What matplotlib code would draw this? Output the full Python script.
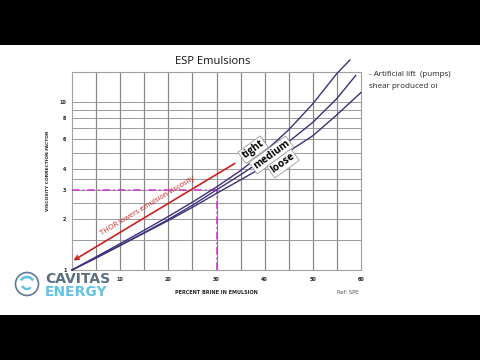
import matplotlib
matplotlib.use("Agg")
import matplotlib.pyplot as plt
import numpy as np
from matplotlib.patches import Rectangle, Circle, Arc

# ---------------- data ----------------
brine_pct = [0, 5, 10, 15, 20, 25, 30, 35, 40, 45, 50, 55]
tight = [1.0, 1.197, 1.435, 1.726, 2.084, 2.535, 3.12, 3.91, 5.06, 6.84, 9.77, 14.8]
tight_end = (57.7, 17.8)
medium = [1.0, 1.18, 1.40, 1.67, 2.0, 2.43, 3.0, 3.69, 4.59, 5.81, 7.57, 10.5]
medium_end = (58.9, 14.4)
loose = [1.0, 1.18, 1.40, 1.66, 1.97, 2.36, 2.86, 3.44, 4.16, 5.08, 6.3, 8.4]
loose_end = (60.0, 11.4)

x_ticks = [10, 20, 30, 40, 50, 60]
x_grid = [5, 10, 15, 20, 25, 30, 35, 40, 45, 50, 55]
y_ticks = [1, 2, 3, 4, 6, 8, 10]
y_grid = [1.5, 2, 2.5, 3, 3.5, 4, 5, 6, 7, 8, 9, 10]

ref_x, ref_y = 30, 3
arrow_start = (33.8, 4.31)
arrow_end = (0.3, 1.14)

# ---------------- figure ----------------
fig = plt.figure(figsize=(4.8, 3.6), dpi=100)
fig.patch.set_facecolor("black")
fig.patches.append(Rectangle((0, 45/360), 1, 270/360, transform=fig.transFigure,
                             facecolor="white", edgecolor="none", zorder=-10))

ax = fig.add_axes([72/480, 90/360, 289/480, 198/360])
ax.set_facecolor("white")
ax.set_yscale("log")
ax.set_xlim(0, 60)
ax.set_ylim(1, 15.1)

gc = "#858585"
for xv in x_grid:
    ax.axvline(xv, color=gc, lw=0.85, zorder=1)
for yv in y_grid:
    ax.axhline(yv, color="#9a9a9a", lw=0.7, zorder=1)
for s in ax.spines.values():
    s.set_color("#a0a0a0")
    s.set_linewidth(0.8)

ax.set_xticks(x_ticks)
ax.set_xticklabels([str(v) for v in x_ticks])
ax.set_yticks(y_ticks)
ax.set_yticklabels([str(v) for v in y_ticks])
ax.yaxis.set_minor_locator(matplotlib.ticker.NullLocator())
ax.tick_params(axis="x", length=0, labelsize=3.5, pad=5, labelcolor="#222222")
ax.tick_params(axis="y", length=0, labelsize=3.5, pad=4, labelcolor="#222222")
for lab in ax.get_xticklabels() + ax.get_yticklabels():
    lab.set_fontweight("bold")

ax.set_xlabel("PERCENT BRINE IN EMULSION", fontsize=3.5, fontweight="bold",
              labelpad=6, color="#222222")
ax.set_ylabel("VISCOSITY CORRECTION FACTOR", fontsize=3.2, fontweight="bold",
              labelpad=7, color="#222222")

cc = "#3e2f7c"
ax.plot(brine_pct + [tight_end[0]], tight + [tight_end[1]], color=cc, lw=1.0,
        clip_on=False, zorder=4)
ax.plot(brine_pct + [medium_end[0]], medium + [medium_end[1]], color=cc, lw=1.0,
        clip_on=False, zorder=4)
ax.plot(brine_pct + [loose_end[0]], loose + [loose_end[1]], color=cc, lw=1.0,
        clip_on=False, zorder=4)

# reference dash-dot lines
mc = "#cc33cc"
ax.plot([0, ref_x], [ref_y, ref_y], color=mc, lw=1.1, ls=(0, (5, 2, 1, 2)), zorder=3)
ax.plot([ref_x, ref_x], [1, ref_y], color=mc, lw=1.1, ls=(0, (5, 2, 1, 2)), zorder=3)

# red arrow
rc = "#cc1f1f"
ax.annotate("", xy=arrow_end, xytext=arrow_start,
            arrowprops=dict(arrowstyle="->", color=rc, lw=1.2,
                            shrinkA=0, shrinkB=0, mutation_scale=7), zorder=5)
ax.text(15.7, 2.39, "THOR lowers emulsion viscosity", color=rc, fontsize=5.3,
        rotation=31, ha="center", va="center", rotation_mode="anchor", zorder=6,
        family="Open Sans")

box = dict(boxstyle="square,pad=0.15", facecolor="white", edgecolor="#999999", lw=0.6)
ax.text(37.6, 5.2, "tight", fontsize=7.3, rotation=36, ha="center", va="center",
        bbox=box, zorder=7, family="Open Sans", fontweight="bold")
ax.text(41.4, 4.84, "medium", fontsize=7.3, rotation=36, ha="center", va="center",
        bbox=box, zorder=7, family="Open Sans", fontweight="bold")
ax.text(43.8, 4.31, "loose", fontsize=7.3, rotation=36, ha="center", va="center",
        bbox=box, zorder=8, family="Open Sans", fontweight="bold")

# title and side text
fig.text(213/480, 1 - 61/360, "ESP Emulsions", fontsize=8, ha="center", va="center",
         family="Open Sans", color="#111111")
fig.text(369/480, 1 - 75/360, "- Artificial lift  (pumps)", fontsize=5.8, ha="left",
         va="center", family="Open Sans", color="#222222")
fig.text(369/480, 1 - 87/360, "shear produced oi", fontsize=5.8, ha="left",
         va="center", family="Open Sans", color="#222222")
fig.text(348/480, 1 - 292/360, "Ref: SPE", fontsize=3.8, ha="center", va="center",
         color="#555555")

# logo (approximation)
lax = fig.add_axes([10/480, 360/360 - 300/360, 40/480, 32/360])
lax.set_xlim(0, 40); lax.set_ylim(0, 32); lax.axis("off")
lax.add_patch(Circle((17, 16), 11.5, facecolor="none", edgecolor="#5f7a90", lw=1.2))
lax.add_patch(Arc((17, 16), 14, 14, theta1=30, theta2=150, color="#5bbfe0", lw=1.8))
lax.add_patch(Arc((17, 16), 10, 10, theta1=200, theta2=320, color="#5bbfe0", lw=1.6))
fig.text(45/480, 1 - 279/360, "CAVITAS", fontsize=10, fontweight="bold",
         color="#5a6e82", ha="left", va="center", family="DejaVu Sans")
fig.text(45/480, 1 - 292/360, "ENERGY", fontsize=10, fontweight="bold",
         color="#63c3e6", ha="left", va="center", family="DejaVu Sans")

fig.savefig("out.png", dpi=100, facecolor=fig.get_facecolor())
